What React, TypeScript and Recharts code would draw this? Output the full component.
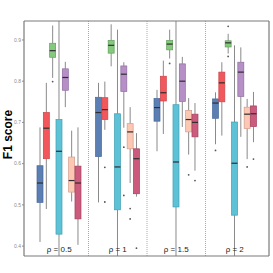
import { ComposedChart, Bar, XAxis, YAxis, ReferenceLine } from 'recharts'

const groups = ['ρ = 0.5', 'ρ = 1', 'ρ = 1.5', 'ρ = 2']

// five-number summaries per group: [min, q1, median, q3, max]
const blueBox = [
  [0.41, 0.506, 0.553, 0.595, 0.688],
  [0.506, 0.617, 0.724, 0.761, 0.796],
  [0.63, 0.703, 0.736, 0.758, 0.779],
  [0.647, 0.71, 0.747, 0.757, 0.773],
]
const blueOut = [[], [], [], [0.632]]

const redBox = [
  [0.49, 0.612, 0.686, 0.724, 0.796],
  [0.682, 0.707, 0.731, 0.76, 0.799],
  [0.672, 0.752, 0.772, 0.812, 0.85],
  [0.668, 0.75, 0.796, 0.822, 0.846],
]
const redOut = [[], [0.591, 0.507], [], []]

const greenBox = [
  [0.808, 0.858, 0.874, 0.892, 0.935],
  [0.836, 0.868, 0.887, 0.899, 0.938],
  [0.855, 0.876, 0.89, 0.899, 0.925],
  [0.867, 0.883, 0.893, 0.898, 0.915],
]
const greenOut = [[0.799], [], [0.843], [0.933, 0.86]]

const cyanBox = [
  [0.36, 0.429, 0.63, 0.707, 0.96],
  [0.36, 0.488, 0.592, 0.721, 0.925],
  [0.36, 0.495, 0.604, 0.743, 0.96],
  [0.36, 0.475, 0.601, 0.701, 0.887],
]
const cyanOut = [[], [], [], []]

const purpleBox = [
  [0.737, 0.778, 0.809, 0.83, 0.847],
  [0.687, 0.775, 0.817, 0.837, 0.846],
  [0.689, 0.751, 0.8, 0.842, 0.859],
  [0.665, 0.763, 0.822, 0.846, 0.882],
]
const purpleOut = [[], [0.64, 0.523], [], []]

const peachBox = [
  [0.508, 0.531, 0.559, 0.616, 0.68],
  [0.553, 0.636, 0.677, 0.697, 0.737],
  [0.622, 0.677, 0.707, 0.729, 0.759],
  [0.611, 0.685, 0.72, 0.737, 0.757],
]
const peachOut = [[], [0.491, 0.466], [0.573], [0.592]]

const crimsonBox = [
  [0.403, 0.466, 0.553, 0.594, 0.688],
  [0.52, 0.527, 0.612, 0.636, 0.674],
  [0.583, 0.665, 0.7, 0.72, 0.747],
  [0.652, 0.69, 0.721, 0.74, 0.774],
]
const crimsonOut = [[], [0.395], [0.559], [0.611]]

const yTicks = [0.4, 0.5, 0.6, 0.7, 0.8, 0.9]

const series = [
  { key: 's1', box: blueBox, out: blueOut, fill: '#5b7fb3', stroke: '#47699c' },
  { key: 's2', box: redBox, out: redOut, fill: '#f2575c', stroke: '#c94348' },
  { key: 's3', box: greenBox, out: greenOut, fill: '#86c97e', stroke: '#5f9f58' },
  { key: 's4', box: cyanBox, out: cyanOut, fill: '#5ec2d6', stroke: '#3f9fb3' },
  { key: 's5', box: purpleBox, out: purpleOut, fill: '#b68fc6', stroke: '#8e6ba1' },
  { key: 's6', box: peachBox, out: peachOut, fill: '#fcc7b3', stroke: '#d39c88' },
  { key: 's7', box: crimsonBox, out: crimsonOut, fill: '#cb5a7c', stroke: '#a33f5f' },
]

const data = groups.map((g, i) => {
  const row: any = { group: g }
  series.forEach(s => {
    const [mn, q1, md, q3, mx] = s.box[i]
    row[s.key] = [q1, q3]
    row[s.key + 'Stats'] = { mn, q1, md, q3, mx, out: s.out[i] }
  })
  return row
})

const FONT = '"Liberation Sans", Arial, sans-serif'
const FRAME = { stroke: '#7a7a7a', strokeWidth: 1.2 }

function boxShape(key: string, fill: string, stroke: string) {
  return (props: any) => {
    const { x, y, width, height, payload, background } = props
    const s = payload?.[key + 'Stats']
    if (!s) return <g />
    const top = Math.min(y, y + height)
    const h = Math.abs(height)
    const k = h / (s.q3 - s.q1)
    const yOf = (v: number) => top + (s.q3 - v) * k
    const lo = background ? background.y : -1e4
    const hi = background ? background.y + background.height : 1e4
    const clamp = (v: number) => Math.max(lo, Math.min(hi, v))
    const cx = x + width / 2
    return (
      <g>
        <line x1={cx} x2={cx} y1={clamp(yOf(s.mx))} y2={top} stroke="#8a8a8a" strokeWidth={1} />
        <line x1={cx} x2={cx} y1={top + h} y2={clamp(yOf(s.mn))} stroke="#8a8a8a" strokeWidth={1} />
        <rect x={x} y={top} width={width} height={h} fill={fill} stroke={stroke} strokeWidth={0.7} />
        <line x1={x} x2={x + width} y1={yOf(s.md)} y2={yOf(s.md)} stroke="#2e2e2e" strokeWidth={1.2} />
        {s.out.map((v: number, j: number) => (
          <circle key={j} cx={cx} cy={yOf(v)} r={0.9} fill="#555" />
        ))}
      </g>
    )
  }
}

function GroupTick(props: any) {
  const { x, payload } = props
  return (
    <text x={x} y={251.5} textAnchor="middle" fontSize={8} fill="#222" fontFamily={FONT}>
      {payload.value}
    </text>
  )
}

export default function App() {
  return (
    <div style={{ position: 'fixed', left: 0, top: 0, width: 273, height: 273, background: '#fff' }}>
      <ComposedChart
        width={273}
        height={273}
        data={data}
        margin={{ top: 20, right: 3, left: 0, bottom: 16 }}
        barSize={6}
        barGap={0.33}
      >
        <XAxis
          dataKey="group"
          type="category"
          padding={{ left: 6, right: 5 }}
          height={1}
          axisLine={FRAME}
          tickLine={false}
          tick={<GroupTick />}
          interval={0}
        />
        <XAxis
          xAxisId="top"
          dataKey="group"
          type="category"
          orientation="top"
          padding={{ left: 6, right: 5 }}
          height={1}
          tick={false}
          tickLine={false}
          axisLine={FRAME}
        />
        <YAxis
          type="number"
          domain={[0.376, 0.946]}
          allowDataOverflow
          ticks={yTicks}
          width={24}
          tickSize={2}
          tickMargin={1}
          tickFormatter={v => Number(v).toFixed(1)}
          tick={{ fontSize: 5, fill: '#8c8c8c', fontFamily: FONT }}
          tickLine={{ stroke: '#8c8c8c' }}
          axisLine={FRAME}
          label={(p: any) => {
            const vb = p.viewBox || { y: 21, height: 235 }
            const cy = vb.y + vb.height / 2 - 4
            return (
              <text
                x={12}
                y={cy}
                transform={`rotate(-90 12 ${cy})`}
                textAnchor="middle"
                fontSize={12}
                fontWeight="bold"
                fill="#000"
                fontFamily={FONT}
              >
                F1 score
              </text>
            )
          }}
        />
        <YAxis
          yAxisId="right"
          orientation="right"
          type="number"
          domain={[0, 1]}
          width={1}
          tick={false}
          tickLine={false}
          axisLine={FRAME}
        />
        {groups.slice(1).map(g => (
          <ReferenceLine
            key={g}
            x={g}
            position="start"
            stroke="#aaa"
            strokeWidth={1}
            strokeDasharray="1 1"
          />
        ))}
        {series.map(s => (
          <Bar
            key={s.key}
            dataKey={s.key}
            isAnimationActive={false}
            shape={boxShape(s.key, s.fill, s.stroke)}
          />
        ))}
      </ComposedChart>
    </div>
  )
}
